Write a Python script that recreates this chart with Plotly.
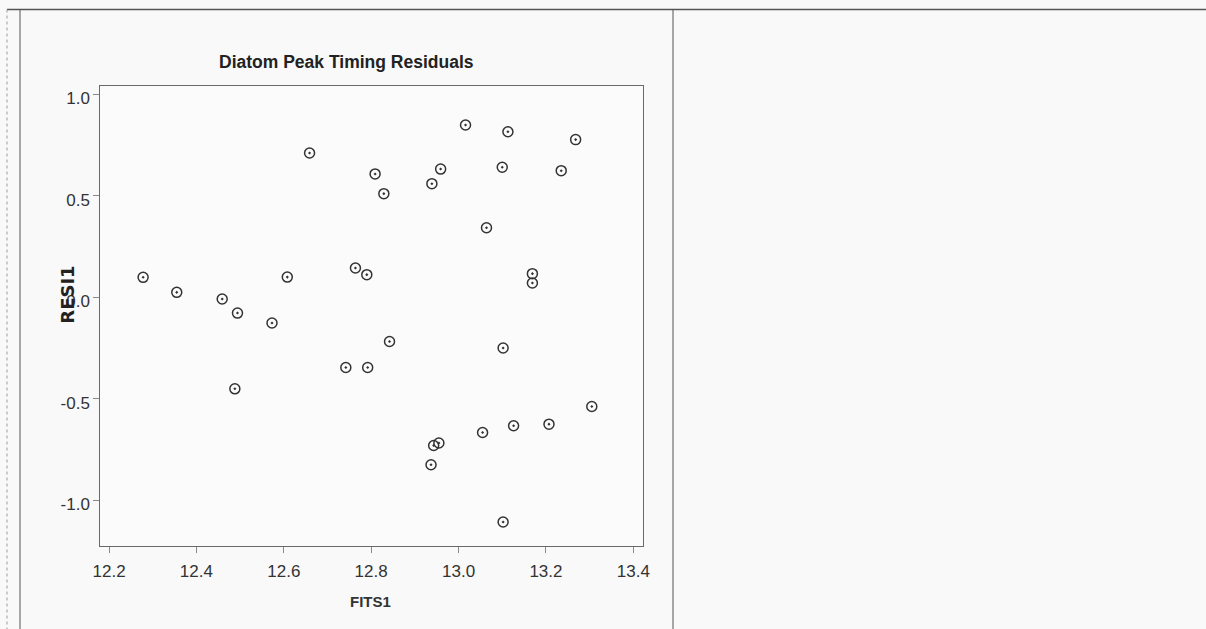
import plotly.graph_objects as go

# Data (fits vs residuals)
fits1 = [12.278, 12.355, 12.459, 12.494, 12.608, 12.659, 12.764, 12.790, 12.809, 12.829,
         12.939, 12.959, 13.016, 13.064, 13.100, 13.113, 13.169, 13.169, 13.235, 13.268,
         12.573, 12.842, 13.102, 12.742, 12.792, 12.488, 13.305, 13.207, 13.126, 13.055,
         12.955, 12.943, 12.937, 13.102]
resi1 = [0.098, 0.024, -0.009, -0.078, 0.099, 0.710, 0.144, 0.111, 0.607, 0.510,
         0.559, 0.631, 0.848, 0.342, 0.640, 0.815, 0.116, 0.070, 0.623, 0.776,
         -0.127, -0.218, -0.250, -0.346, -0.346, -0.451, -0.538, -0.625, -0.633, -0.666,
         -0.718, -0.730, -0.825, -1.107]

x_ticks = [12.2, 12.4, 12.6, 12.8, 13.0, 13.2, 13.4]
x_ticktext = ["12.2", "12.4", "12.6", "12.8", "13.0", "13.2", "13.4"]
y_ticks = [1.0, 0.5, 0.0, -0.5, -1.0]
y_ticktext = ["1.0", "0.5", "0.0", "-0.5", "-1.0"]

W, H = 1206, 629
SANS = "Liberation Sans, Arial, sans-serif"

def px(x):
    return x / W

def py(y):
    return 1 - y / H

fig = go.Figure()
fig.add_trace(go.Scatter(
    x=fits1, y=resi1, mode="markers",
    marker=dict(symbol="circle-open-dot", size=10, color="#333333",
                line=dict(width=1.5, color="#333333")),
    showlegend=False,
))

axis_common = dict(
    showgrid=False, zeroline=False, showline=True, mirror=True,
    linecolor="#6a6a6a", linewidth=1, ticks="outside", ticklen=6,
    tickcolor="#8a8a8a", tickwidth=1,
    tickfont=dict(family=SANS, size=17, color="#333333"),
    automargin=False,
)

fig.update_layout(
    width=W, height=H,
    margin=dict(l=0, r=0, t=0, b=0),
    paper_bgcolor="#f9f9f9",
    plot_bgcolor="#fbfbfb",
    xaxis=dict(range=[12.180, 13.4215], domain=[px(100.3), px(642.7)],
               tickvals=x_ticks, ticktext=x_ticktext, ticklabelstandoff=4, **axis_common),
    yaxis=dict(range=[-1.225, 1.04], domain=[py(546), py(86)],
               tickvals=y_ticks, ticktext=y_ticktext, ticklabelshift=4, **axis_common),
    annotations=[
        dict(text="<b>Diatom Peak Timing Residuals</b>", x=px(346.5), y=py(61.7),
             xref="paper", yref="paper", showarrow=False, xanchor="center", yanchor="middle",
             font=dict(family=SANS, size=17.5, color="#222222")),
        dict(text="<b>FITS1</b>", x=px(370.5), y=py(601.7),
             xref="paper", yref="paper", showarrow=False, xanchor="center", yanchor="middle",
             font=dict(family=SANS, size=15, color="#333333")),
        dict(text="<b>RESI1</b>", x=px(66.7), y=py(295),
             xref="paper", yref="paper", showarrow=False, xanchor="center", yanchor="middle",
             textangle=-90,
             font=dict(family="DejaVu Sans, sans-serif", size=18, color="#222222")),
    ],
    shapes=[
        dict(type="line", xref="paper", yref="paper", x0=px(7), x1=1, y0=py(9.5), y1=py(9.5),
             line=dict(color="#555555", width=1.5)),
        dict(type="line", xref="paper", yref="paper", x0=px(7), x1=px(7), y0=py(9.5), y1=0,
             line=dict(color="#9a9a9a", width=1, dash="dot")),
        dict(type="line", xref="paper", yref="paper", x0=px(20), x1=px(20), y0=py(9.5), y1=0,
             line=dict(color="#555555", width=1)),
        dict(type="line", xref="paper", yref="paper", x0=px(673), x1=px(673), y0=py(9.5), y1=0,
             line=dict(color="#555555", width=1)),
    ],
)

fig.write_html("out.html", config={"displayModeBar": False},
               post_script="document.body.style.margin='0';document.body.style.overflow='hidden';")
